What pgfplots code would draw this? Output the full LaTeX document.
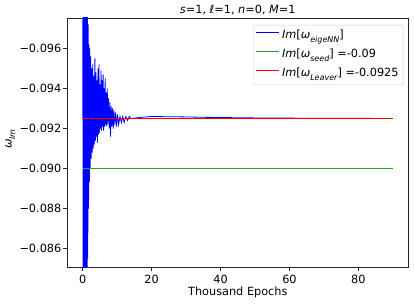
\documentclass[border=0pt]{standalone}
\usepackage{fontspec}
\setmainfont{DejaVu Sans}
\usepackage{pgfplots}
\pgfplotsset{compat=1.18}
\definecolor{mgreen}{rgb}{0.15,0.62,0.15}
\newcommand{\sub}[1]{\raisebox{-0.3em}{\fontsize{8}{8}\selectfont\itshape #1}}
\begin{document}
\fontsize{11.3}{13.5}\selectfont
\begin{tikzpicture}
\useasboundingbox (-67.3pt,-36.7pt) rectangle (346.7pt,267.3pt);
\begin{axis}[
  at={(0,0)}, anchor=south west,
  scale only axis, width=341pt, height=249.3pt,
  xmin=-4.5, xmax=94.5,
  ymin=-0.09752, ymax=-0.08507, y dir=reverse,
  scaled y ticks=false, scaled x ticks=false,
  xtick={0,20,40,60,80}, xticklabels={0,20,40,60,80},
  ytick={-0.096,-0.094,-0.092,-0.090,-0.088,-0.086},
  yticklabels={−0.096,−0.094,−0.092,−0.090,−0.088,−0.086},
  tick align=outside, tick pos=left, major tick length=4pt,
  every tick/.style={black!85, line width=0.8pt},
  axis line style={black!85, line width=0.8pt},
  ticklabel style={font=\fontsize{11.3}{13.5}\selectfont},
  yticklabel style={xshift=2pt},
  xlabel={Thousand Epochs},
  xlabel style={at={(axis description cs:0.5,0)}, anchor=base, yshift=-27.7pt, inner sep=0pt},
  ylabel={\textit{ω}\sub{Im}},
  ylabel style={at={(axis description cs:-0.167,0.514)}, anchor=center, inner sep=0pt},
  legend cell align=left,
  legend image code/.code={\draw[#1] (0pt,3.6pt) -- (23pt,3.6pt);},
  legend style={at={(axis description cs:1,1)}, anchor=north east, xshift=-5pt, yshift=-7pt,
    draw=black!20, rounded corners=2pt, fill=white, fill opacity=0.8, text opacity=1,
    inner xsep=2pt, inner ysep=2pt, row sep=1.5pt,
    nodes={inner sep=2.5pt, text height=9pt, text depth=3.5pt},
    font=\fontsize{11.3}{13.5}\selectfont},
]
\addplot[blue, line width=0.8pt] coordinates {
(0.00,-0.0925) (0.05,-0.1010) (0.10,-0.0830) (0.15,-0.1020) (0.20,-0.0820)
(0.25,-0.1000) (0.30,-0.0840) (0.35,-0.1015) (0.40,-0.0825) (0.45,-0.0990)
(0.50,-0.0835) (0.55,-0.1005) (0.60,-0.0830) (0.65,-0.0995) (0.70,-0.0840)
(0.75,-0.0990) (0.80,-0.0835) (0.85,-0.0985) (0.90,-0.0840) (0.95,-0.0990)
(1.00,-0.0838) (1.05,-0.0985) (1.10,-0.0845) (1.15,-0.0980) (1.20,-0.0842)
(1.25,-0.0978) (1.30,-0.0848) (1.35,-0.0976) (1.40,-0.0855) (1.45,-0.0972)
(1.50,-0.0868) (1.58,-0.0972) (1.68,-0.0880) (1.78,-0.0962) (1.90,-0.0893)
(2.02,-0.0960) (2.15,-0.0900) (2.30,-0.0956) (2.45,-0.0905) (2.60,-0.0950)
(2.75,-0.0908) (2.90,-0.0952) (3.05,-0.0910) (3.20,-0.0946) (3.35,-0.0912)
(3.50,-0.0955) (3.65,-0.0914) (3.80,-0.0948) (3.95,-0.0916) (4.10,-0.0944)
(4.25,-0.0913) (4.40,-0.0950) (4.55,-0.0917) (4.70,-0.0952) (4.85,-0.0918)
(5.00,-0.0942) (5.15,-0.0920) (5.30,-0.0949) (5.45,-0.0919) (5.60,-0.0944)
(5.75,-0.0921) (5.90,-0.0947) (6.05,-0.0919) (6.20,-0.0940) (6.35,-0.0921)
(6.50,-0.0945) (6.65,-0.0922) (6.80,-0.0938) (6.95,-0.0921) (7.10,-0.0940)
(7.30,-0.0922) (7.50,-0.0935) (7.70,-0.0920) (7.90,-0.0933) (8.05,-0.0916)
(8.25,-0.0931) (8.45,-0.0921) (8.65,-0.0930) (8.85,-0.0920) (9.05,-0.0929)
(9.30,-0.0922) (9.55,-0.0928) (9.80,-0.0921) (10.1,-0.0927) (10.4,-0.0922)
(10.8,-0.0926) (11.2,-0.0923) (11.6,-0.0926) (12.0,-0.0923) (12.5,-0.0926)
(13.0,-0.0924) (13.5,-0.0926) (14.0,-0.0925)
(15,-0.09252) (17,-0.09256) (20,-0.09260) (25,-0.09259) (30,-0.09258)
(35,-0.09256) (40,-0.09255) (50,-0.09253) (60,-0.09252) (70,-0.09251)
(80,-0.09251) (90,-0.09250)
};
\addlegendentry{\textit{Im}[\textit{ω}\sub{eigeNN}]}
\addplot[mgreen, line width=0.75pt] coordinates {(0,-0.090) (90,-0.090)};
\addlegendentry{\textit{Im}[\textit{ω}\sub{seed}] =-0.09}
\addplot[red, line width=0.75pt] coordinates {(0,-0.0925) (90,-0.0925)};
\addlegendentry{\textit{Im}[\textit{ω}\sub{Leaver}] =-0.0925}
\end{axis}
\node[anchor=base, inner sep=0pt] at (170.5pt,254pt) {\fontsize{11.3}{13.5}\selectfont\textit{s}=1, ℓ=1, \textit{n}=0, \textit{M}=1};
\end{tikzpicture}
\end{document}
